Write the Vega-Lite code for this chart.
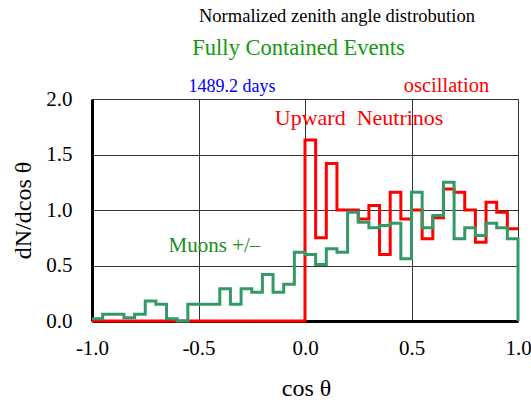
{
  "$schema": "https://vega.github.io/schema/vega-lite/v6.json",
  "width": 426,
  "height": 222,
  "autosize": {"type": "none"},
  "padding": {"left": 92, "top": 99, "right": 13, "bottom": 82},
  "background": "white",
  "config": {
    "font": "Liberation Serif",
    "view": {"stroke": "#888888", "strokeWidth": 1}
  },
  "datasets": {
    "neutrinos": [
      {"i": 0, "x": -1.00, "y": 0}, {"i": 1, "x": -0.95, "y": 0}, {"i": 2, "x": -0.90, "y": 0}, {"i": 3, "x": -0.85, "y": 0},
      {"i": 4, "x": -0.80, "y": 0}, {"i": 5, "x": -0.75, "y": 0}, {"i": 6, "x": -0.70, "y": 0}, {"i": 7, "x": -0.65, "y": 0},
      {"i": 8, "x": -0.60, "y": 0}, {"i": 9, "x": -0.55, "y": 0}, {"i": 10, "x": -0.50, "y": 0}, {"i": 11, "x": -0.45, "y": 0},
      {"i": 12, "x": -0.40, "y": 0}, {"i": 13, "x": -0.35, "y": 0}, {"i": 14, "x": -0.30, "y": 0}, {"i": 15, "x": -0.25, "y": 0},
      {"i": 16, "x": -0.20, "y": 0}, {"i": 17, "x": -0.15, "y": 0}, {"i": 18, "x": -0.10, "y": 0}, {"i": 19, "x": -0.05, "y": 0},
      {"i": 20, "x": 0.00, "y": 1.63}, {"i": 21, "x": 0.05, "y": 0.75}, {"i": 22, "x": 0.10, "y": 1.42}, {"i": 23, "x": 0.15, "y": 1.00},
      {"i": 24, "x": 0.20, "y": 1.00}, {"i": 25, "x": 0.25, "y": 0.92}, {"i": 26, "x": 0.30, "y": 1.04}, {"i": 27, "x": 0.35, "y": 0.60},
      {"i": 28, "x": 0.40, "y": 1.16}, {"i": 29, "x": 0.45, "y": 0.92}, {"i": 30, "x": 0.50, "y": 1.00}, {"i": 31, "x": 0.55, "y": 0.74},
      {"i": 32, "x": 0.60, "y": 0.93}, {"i": 33, "x": 0.65, "y": 1.19}, {"i": 34, "x": 0.70, "y": 1.16}, {"i": 35, "x": 0.75, "y": 1.00},
      {"i": 36, "x": 0.80, "y": 0.71}, {"i": 37, "x": 0.85, "y": 1.07}, {"i": 38, "x": 0.90, "y": 0.98}, {"i": 39, "x": 0.95, "y": 0.83},
      {"i": 40, "x": 1.00, "y": 0.83}
    ],
    "muons": [
      {"i": 0, "x": -1.00, "y": 0.02}, {"i": 1, "x": -0.95, "y": 0.06}, {"i": 2, "x": -0.90, "y": 0.06}, {"i": 3, "x": -0.85, "y": 0.03},
      {"i": 4, "x": -0.80, "y": 0.06}, {"i": 5, "x": -0.75, "y": 0.18}, {"i": 6, "x": -0.70, "y": 0.15}, {"i": 7, "x": -0.65, "y": 0.02},
      {"i": 8, "x": -0.60, "y": 0.00}, {"i": 9, "x": -0.55, "y": 0.15}, {"i": 10, "x": -0.50, "y": 0.15}, {"i": 11, "x": -0.45, "y": 0.15},
      {"i": 12, "x": -0.40, "y": 0.29}, {"i": 13, "x": -0.35, "y": 0.15}, {"i": 14, "x": -0.30, "y": 0.29}, {"i": 15, "x": -0.25, "y": 0.26},
      {"i": 16, "x": -0.20, "y": 0.42}, {"i": 17, "x": -0.15, "y": 0.26}, {"i": 18, "x": -0.10, "y": 0.33}, {"i": 19, "x": -0.05, "y": 0.62},
      {"i": 20, "x": 0.00, "y": 0.60}, {"i": 21, "x": 0.05, "y": 0.51}, {"i": 22, "x": 0.10, "y": 0.65}, {"i": 23, "x": 0.15, "y": 0.62},
      {"i": 24, "x": 0.20, "y": 0.98}, {"i": 25, "x": 0.25, "y": 0.89}, {"i": 26, "x": 0.30, "y": 0.84}, {"i": 27, "x": 0.35, "y": 0.86},
      {"i": 28, "x": 0.40, "y": 0.88}, {"i": 29, "x": 0.45, "y": 0.56}, {"i": 30, "x": 0.50, "y": 1.16}, {"i": 31, "x": 0.55, "y": 0.84},
      {"i": 32, "x": 0.60, "y": 0.95}, {"i": 33, "x": 0.65, "y": 1.25}, {"i": 34, "x": 0.70, "y": 0.74}, {"i": 35, "x": 0.75, "y": 0.84},
      {"i": 36, "x": 0.80, "y": 0.77}, {"i": 37, "x": 0.85, "y": 0.88}, {"i": 38, "x": 0.90, "y": 0.84}, {"i": 39, "x": 0.95, "y": 0.74},
      {"i": 40, "x": 1.00, "y": 0.74}, {"i": 41, "x": 1.00, "y": 0.00}
    ]
  },
  "layer": [
    {
      "data": {"name": "neutrinos"},
      "mark": {"type": "line", "interpolate": "step-after", "strokeWidth": 3, "color": "#FF0000", "clip": false},
      "encoding": {
        "x": {
          "field": "x", "type": "quantitative",
          "scale": {"domain": [-1, 1], "nice": false, "zero": false},
          "axis": {
            "values": [-1, -0.5, 0, 0.5, 1],
            "labelExpr": "replace(format(datum.value, '.1f'), '\u2212', '-')",
            "title": "cos \u03b8",
            "ticks": false, "tickSize": 0,
            "labelFont": "Liberation Serif", "labelFontSize": 21, "labelColor": "#000000",
            "labelBaseline": "middle", "labelPadding": 27, "labelFlush": false,
            "titleFont": "Liberation Serif", "titleFontSize": 24, "titleFontWeight": "normal", "titleColor": "#000000",
            "titleBaseline": "alphabetic", "titleY": 74, "titleX": 214,
            "domainColor": "#000000", "domainWidth": 3,
            "grid": true, "gridColor": "#333333", "gridWidth": 1
          }
        },
        "y": {
          "field": "y", "type": "quantitative",
          "scale": {"domain": [0, 2], "nice": false},
          "axis": {
            "values": [0, 0.5, 1, 1.5, 2],
            "format": ".1f",
            "title": "dN/dcos \u03b8",
            "ticks": false, "tickSize": 0,
            "labelFont": "Liberation Serif", "labelFontSize": 21, "labelColor": "#000000",
            "labelPadding": 20, "labelFlush": false,
            "titleFont": "Liberation Serif", "titleFontSize": 24, "titleFontWeight": "normal", "titleColor": "#000000",
            "titleAngle": -90, "titleBaseline": "middle", "titleAlign": "center", "titleX": -69, "titleY": 111,
            "domainColor": "#000000", "domainWidth": 3,
            "grid": true, "gridColor": "#333333", "gridWidth": 1
          }
        },
        "order": {"field": "i", "type": "quantitative"}
      }
    },
    {
      "data": {"name": "muons"},
      "mark": {"type": "line", "interpolate": "step-after", "strokeWidth": 3, "color": "#339966", "clip": false},
      "encoding": {
        "x": {"field": "x", "type": "quantitative"},
        "y": {"field": "y", "type": "quantitative"},
        "order": {"field": "i", "type": "quantitative"}
      }
    },
    {
      "data": {"values": [{"label": "Normalized zenith angle distrobution", "x": 0.15, "y": 2.695}]},
      "mark": {"type": "text", "font": "Liberation Serif", "fontSize": 18.5, "color": "#000000", "align": "center", "baseline": "alphabetic"},
      "encoding": {"x": {"field": "x", "type": "quantitative"}, "y": {"field": "y", "type": "quantitative"}, "text": {"field": "label"}}
    },
    {
      "data": {"values": [{"label": "Fully Contained Events", "x": -0.03, "y": 2.397}]},
      "mark": {"type": "text", "font": "Liberation Serif", "fontSize": 22.5, "color": "#119911", "align": "center", "baseline": "alphabetic"},
      "encoding": {"x": {"field": "x", "type": "quantitative"}, "y": {"field": "y", "type": "quantitative"}, "text": {"field": "label"}}
    },
    {
      "data": {"values": [{"label": "1489.2 days", "x": -0.343, "y": 2.063}]},
      "mark": {"type": "text", "font": "Liberation Serif", "fontSize": 18, "color": "#0000FF", "align": "center", "baseline": "alphabetic"},
      "encoding": {"x": {"field": "x", "type": "quantitative"}, "y": {"field": "y", "type": "quantitative"}, "text": {"field": "label"}}
    },
    {
      "data": {"values": [{"label": "oscillation", "x": 0.664, "y": 2.063}]},
      "mark": {"type": "text", "font": "Liberation Serif", "fontSize": 20.5, "color": "#FF0000", "align": "center", "baseline": "alphabetic"},
      "encoding": {"x": {"field": "x", "type": "quantitative"}, "y": {"field": "y", "type": "quantitative"}, "text": {"field": "label"}}
    },
    {
      "data": {"values": [{"label": "Upward\u00a0 Neutrinos", "x": 0.254, "y": 1.765}]},
      "mark": {"type": "text", "font": "Liberation Serif", "fontSize": 22, "color": "#FF0000", "align": "center", "baseline": "alphabetic"},
      "encoding": {"x": {"field": "x", "type": "quantitative"}, "y": {"field": "y", "type": "quantitative"}, "text": {"field": "label"}}
    },
    {
      "data": {"values": [{"label": "Muons +/\u2013", "x": -0.425, "y": 0.625}]},
      "mark": {"type": "text", "font": "Liberation Serif", "fontSize": 21, "color": "#228B22", "align": "center", "baseline": "alphabetic"},
      "encoding": {"x": {"field": "x", "type": "quantitative"}, "y": {"field": "y", "type": "quantitative"}, "text": {"field": "label"}}
    }
  ]
}
